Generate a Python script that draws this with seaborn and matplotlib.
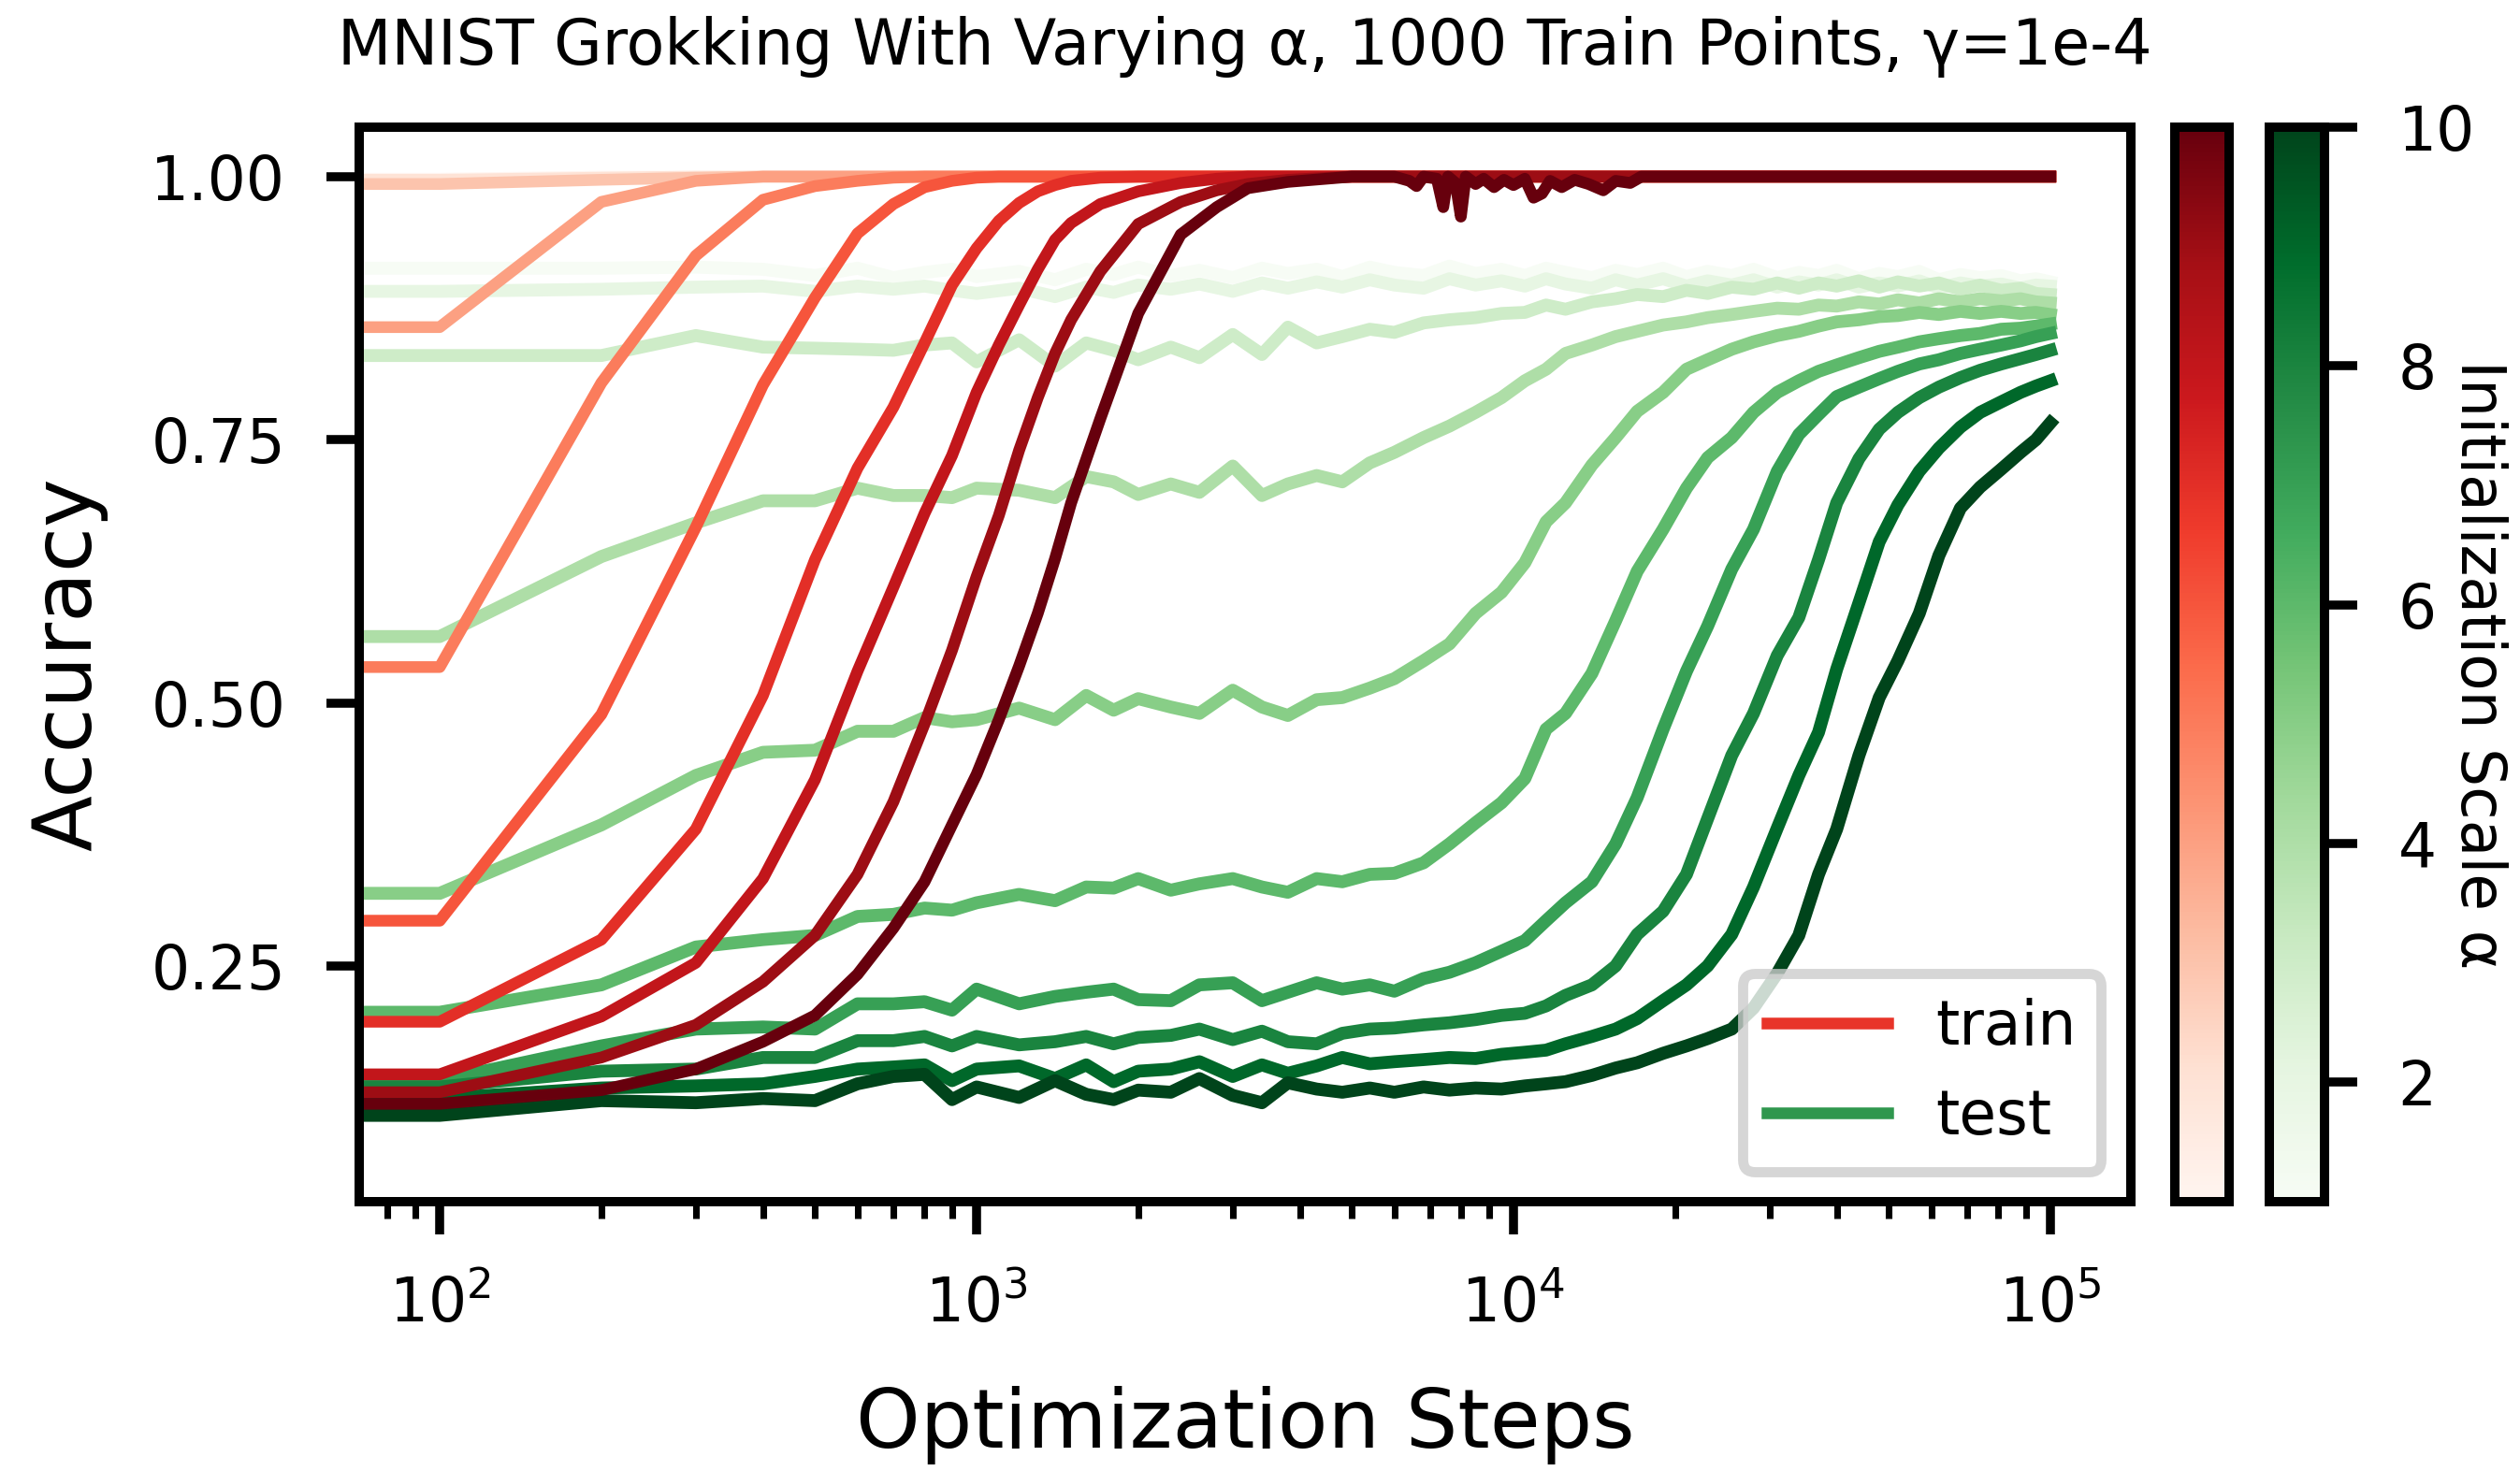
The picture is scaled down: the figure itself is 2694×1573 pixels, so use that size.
import matplotlib
matplotlib.use("Agg")
import matplotlib.pyplot as plt
import pandas as pd
import seaborn as sns
from matplotlib.lines import Line2D
from matplotlib.cm import ScalarMappable
from matplotlib.colors import Normalize
from matplotlib.ticker import FormatStrFormatter

# ---------------------------------------------------------------- data
TITLE = "MNIST Grokking With Varying α, 1000 Train Points, γ=1e-4"
ALPHAS = [1, 2, 3, 4, 5, 6, 7, 8, 9, 10]

# train accuracy, one list per initialization scale
TRAIN_STEPS = [0, 100, 200, 300, 400, 500, 600, 700, 800, 900, 1000,
               1100, 1200, 1300, 1400, 1500, 1700, 2000, 2400, 2800, 3200,
               3800, 5000, 100000]
TRAIN_A1 = [0.998, 0.998, 1.0, 1.0, 1.0, 1.0, 1.0, 1.0, 1.0, 1.0, 1.0,
            1.0, 1.0, 1.0, 1.0, 1.0, 1.0, 1.0, 1.0, 1.0, 1.0, 1.0, 1.0, 1.0]
TRAIN_A2 = [0.997, 0.997, 0.999, 1.0, 1.0, 1.0, 1.0, 1.0, 1.0, 1.0, 1.0,
            1.0, 1.0, 1.0, 1.0, 1.0, 1.0, 1.0, 1.0, 1.0, 1.0, 1.0, 1.0, 1.0]
TRAIN_A3 = [0.993, 0.993, 0.997, 0.999, 1.0, 1.0, 1.0, 1.0, 1.0, 1.0, 1.0,
            1.0, 1.0, 1.0, 1.0, 1.0, 1.0, 1.0, 1.0, 1.0, 1.0, 1.0, 1.0, 1.0]
TRAIN_A4 = [0.857, 0.857, 0.976, 0.996, 1.0, 1.0, 1.0, 1.0, 1.0, 1.0, 1.0,
            1.0, 1.0, 1.0, 1.0, 1.0, 1.0, 1.0, 1.0, 1.0, 1.0, 1.0, 1.0, 1.0]
TRAIN_A5 = [0.534, 0.534, 0.804, 0.925, 0.978, 0.991, 0.996, 0.999, 1.0, 1.0, 1.0,
            1.0, 1.0, 1.0, 1.0, 1.0, 1.0, 1.0, 1.0, 1.0, 1.0, 1.0, 1.0, 1.0]
TRAIN_A6 = [0.293, 0.293, 0.489, 0.667, 0.802, 0.885, 0.946, 0.974, 0.990, 0.996, 0.999,
            1.0, 1.0, 1.0, 1.0, 1.0, 1.0, 1.0, 1.0, 1.0, 1.0, 1.0, 1.0, 1.0]
TRAIN_A7 = [0.197, 0.197, 0.275, 0.380, 0.507, 0.636, 0.723, 0.781, 0.842, 0.897, 0.932,
            0.958, 0.975, 0.986, 0.992, 0.996, 0.999, 1.0, 1.0, 1.0, 1.0, 1.0, 1.0, 1.0]
TRAIN_A8 = [0.147, 0.147, 0.202, 0.253, 0.333, 0.427, 0.530, 0.610, 0.680, 0.735, 0.795,
            0.840, 0.878, 0.912, 0.940, 0.956, 0.974, 0.986, 0.994, 0.998, 1.0, 1.0, 1.0, 1.0]
TRAIN_A9 = [0.130, 0.130, 0.163, 0.194, 0.235, 0.279, 0.337, 0.406, 0.480, 0.550, 0.620,
            0.678, 0.740, 0.790, 0.832, 0.864, 0.910, 0.955, 0.976, 0.987, 0.993, 0.997, 1.0, 1.0]
TRAIN_A10 = [0.119, 0.119, 0.132, 0.152, 0.178, 0.203, 0.242, 0.286, 0.330, 0.384, 0.432,
             0.484, 0.535, 0.585, 0.637, 0.690, 0.770, 0.870, 0.945, 0.971, 0.989, 0.995, 1.0, 1.0]
# the largest scale wobbles around perfect train accuracy for a while
A10_WOBBLE_STEPS = [6000, 6400, 6600, 6800, 7200, 7400, 7550, 7800, 7980, 8150,
                    8500, 8800, 9200, 9600, 10000, 10500, 10900, 11300, 11700, 12300,
                    13000, 13800, 14700, 15500, 16500, 17300]
A10_WOBBLE_ACC = [1.0, 0.996, 0.991, 1.0, 0.998, 0.971, 1.0, 0.994, 0.962, 1.0,
                  0.993, 0.998, 0.990, 0.997, 0.992, 0.998, 0.980, 0.984, 0.996, 0.990,
                  0.997, 0.993, 0.987, 0.996, 0.994, 1.0]

# test accuracy, one list per initialization scale
TEST_STEPS = [0, 100, 200, 300, 400, 500, 600, 700, 800, 900, 1000,
              1200, 1400, 1600, 1800, 2000, 2300, 2600, 3000, 3400, 3800,
              4300, 4800, 5400, 6000, 6800, 7600, 8500, 9500, 10500, 11500,
              12500, 14000, 15500, 17000, 19000, 21000, 23000, 25500, 28000, 31000,
              34000, 37000, 40000, 44000, 48000, 52000, 57000, 62000, 68000, 74000,
              81000, 88000, 94000, 100000]
TEST_A1 = [0.913, 0.913, 0.913, 0.914, 0.912, 0.906, 0.913, 0.904, 0.909, 0.912, 0.905,
           0.910, 0.902, 0.912, 0.907, 0.914, 0.906, 0.911, 0.904, 0.913, 0.908,
           0.912, 0.905, 0.914, 0.909, 0.906, 0.915, 0.908, 0.912, 0.906, 0.913,
           0.909, 0.904, 0.911, 0.907, 0.913, 0.905, 0.910, 0.906, 0.912, 0.904,
           0.909, 0.906, 0.911, 0.903, 0.908, 0.905, 0.910, 0.902, 0.907, 0.904,
           0.906, 0.901, 0.903, 0.900]
TEST_A2 = [0.891, 0.891, 0.893, 0.895, 0.896, 0.891, 0.896, 0.893, 0.896, 0.892, 0.889,
           0.894, 0.886, 0.895, 0.890, 0.897, 0.893, 0.898, 0.891, 0.899, 0.894,
           0.900, 0.895, 0.902, 0.897, 0.894, 0.903, 0.897, 0.901, 0.896, 0.903,
           0.898, 0.894, 0.902, 0.897, 0.903, 0.896, 0.901, 0.897, 0.902, 0.895,
           0.900, 0.897, 0.902, 0.895, 0.899, 0.896, 0.901, 0.894, 0.899, 0.896,
           0.898, 0.894, 0.897, 0.896]
TEST_A3 = [0.830, 0.830, 0.830, 0.849, 0.838, 0.837, 0.836, 0.835, 0.840, 0.842, 0.824,
           0.845, 0.820, 0.842, 0.835, 0.826, 0.838, 0.828, 0.850, 0.831, 0.857,
           0.842, 0.848, 0.855, 0.852, 0.861, 0.864, 0.866, 0.870, 0.871, 0.878,
           0.874, 0.881, 0.884, 0.888, 0.886, 0.892, 0.889, 0.895, 0.893, 0.899,
           0.894, 0.899, 0.896, 0.901, 0.895, 0.900, 0.896, 0.899, 0.893, 0.897,
           0.892, 0.894, 0.889, 0.888]
TEST_A4 = [0.563, 0.563, 0.639, 0.671, 0.692, 0.692, 0.704, 0.697, 0.697, 0.695, 0.704,
           0.702, 0.695, 0.715, 0.710, 0.698, 0.708, 0.700, 0.725, 0.697, 0.708,
           0.716, 0.710, 0.728, 0.738, 0.752, 0.763, 0.776, 0.790, 0.806, 0.817,
           0.832, 0.840, 0.848, 0.853, 0.859, 0.862, 0.866, 0.869, 0.872, 0.875,
           0.874, 0.878, 0.877, 0.881, 0.879, 0.883, 0.880, 0.884, 0.881, 0.884,
           0.882, 0.884, 0.881, 0.880]
TEST_A5 = [0.319, 0.319, 0.384, 0.431, 0.453, 0.455, 0.473, 0.473, 0.486, 0.482, 0.484,
           0.495, 0.484, 0.507, 0.493, 0.504, 0.496, 0.490, 0.512, 0.496, 0.488,
           0.503, 0.505, 0.514, 0.523, 0.540, 0.556, 0.585, 0.605, 0.633, 0.672,
           0.690, 0.726, 0.752, 0.777, 0.795, 0.817, 0.826, 0.836, 0.843, 0.849,
           0.853, 0.858, 0.862, 0.864, 0.867, 0.868, 0.871, 0.869, 0.872, 0.870,
           0.872, 0.870, 0.871, 0.869]
TEST_A6 = [0.206, 0.206, 0.232, 0.268, 0.275, 0.279, 0.297, 0.299, 0.305, 0.303, 0.310,
           0.318, 0.312, 0.325, 0.324, 0.333, 0.322, 0.328, 0.333, 0.325, 0.320,
           0.333, 0.330, 0.337, 0.338, 0.348, 0.366, 0.386, 0.405, 0.428, 0.475,
           0.490, 0.528, 0.578, 0.625, 0.665, 0.704, 0.733, 0.752, 0.776, 0.795,
           0.806, 0.815, 0.821, 0.828, 0.834, 0.838, 0.843, 0.846, 0.849, 0.851,
           0.855, 0.856, 0.858, 0.860]
TEST_A7 = [0.141, 0.141, 0.174, 0.190, 0.192, 0.190, 0.214, 0.214, 0.216, 0.208, 0.228,
           0.214, 0.221, 0.225, 0.228, 0.218, 0.217, 0.232, 0.234, 0.217, 0.225,
           0.234, 0.228, 0.232, 0.226, 0.238, 0.244, 0.253, 0.264, 0.274, 0.293,
           0.310, 0.330, 0.366, 0.410, 0.475, 0.530, 0.573, 0.627, 0.665, 0.720,
           0.755, 0.774, 0.791, 0.800, 0.808, 0.815, 0.822, 0.826, 0.832, 0.836,
           0.840, 0.844, 0.848, 0.851]
TEST_A8 = [0.135, 0.135, 0.150, 0.152, 0.163, 0.163, 0.179, 0.179, 0.183, 0.174, 0.183,
           0.175, 0.178, 0.183, 0.176, 0.182, 0.184, 0.190, 0.180, 0.188, 0.178,
           0.176, 0.186, 0.190, 0.191, 0.194, 0.196, 0.199, 0.203, 0.205, 0.212,
           0.222, 0.232, 0.250, 0.280, 0.302, 0.337, 0.390, 0.450, 0.490, 0.545,
           0.581, 0.636, 0.690, 0.732, 0.760, 0.776, 0.790, 0.800, 0.809, 0.816,
           0.822, 0.827, 0.831, 0.835]
TEST_A9 = [0.124, 0.124, 0.134, 0.136, 0.138, 0.145, 0.152, 0.154, 0.156, 0.141, 0.152,
           0.155, 0.143, 0.156, 0.140, 0.150, 0.152, 0.159, 0.145, 0.156, 0.148,
           0.155, 0.163, 0.157, 0.159, 0.161, 0.163, 0.162, 0.166, 0.168, 0.170,
           0.176, 0.183, 0.190, 0.200, 0.217, 0.232, 0.250, 0.280, 0.325, 0.381,
           0.431, 0.472, 0.532, 0.595, 0.653, 0.688, 0.720, 0.742, 0.762, 0.776,
           0.786, 0.795, 0.801, 0.806]
TEST_A10 = [0.108, 0.108, 0.122, 0.120, 0.124, 0.122, 0.138, 0.145, 0.147, 0.123, 0.135,
            0.125, 0.141, 0.128, 0.123, 0.132, 0.130, 0.143, 0.127, 0.120, 0.139,
            0.133, 0.130, 0.134, 0.130, 0.135, 0.132, 0.134, 0.133, 0.136, 0.138,
            0.140, 0.146, 0.153, 0.158, 0.167, 0.174, 0.181, 0.190, 0.210, 0.243,
            0.279, 0.337, 0.380, 0.450, 0.505, 0.540, 0.585, 0.640, 0.685, 0.705,
            0.722, 0.738, 0.750, 0.766]

Y_TICKS = [0.25, 0.50, 0.75, 1.00]
CBAR_TICKS = [2, 4, 6, 8, 10]

TRAIN_SERIES = [TRAIN_A1, TRAIN_A2, TRAIN_A3, TRAIN_A4, TRAIN_A5,
                TRAIN_A6, TRAIN_A7, TRAIN_A8, TRAIN_A9, TRAIN_A10]
TEST_SERIES = [TEST_A1, TEST_A2, TEST_A3, TEST_A4, TEST_A5,
               TEST_A6, TEST_A7, TEST_A8, TEST_A9, TEST_A10]

# ---------------------------------------------------------------- frames
def long_frame(steps, series):
    rows = []
    for a, vals in zip(ALPHAS, series):
        assert len(vals) == len(steps)
        rows += [(s, v, a) for s, v in zip(steps, vals)]
    return pd.DataFrame(rows, columns=["step", "acc", "alpha"])

train_df = long_frame(TRAIN_STEPS, TRAIN_SERIES)
wobble_df = pd.DataFrame({"step": A10_WOBBLE_STEPS, "acc": A10_WOBBLE_ACC,
                          "alpha": 10})
train_df = pd.concat([train_df, wobble_df], ignore_index=True)
test_df = long_frame(TEST_STEPS, TEST_SERIES)

# ---------------------------------------------------------------- figure
plt.rcParams["font.family"] = ["DejaVu Sans"]
W, H, DPI = 2695, 1573, 300
fig = plt.figure(figsize=(W / DPI, H / DPI), dpi=DPI)
fig.patch.set_facecolor("white")

AX_L, AX_R, AX_T, AX_B = 384, 2278, 136, 1285
ax = fig.add_axes([AX_L / W, 1 - AX_B / H, (AX_R - AX_L) / W, (AX_B - AX_T) / H])

LW = 3.0
norm = Normalize(vmin=1, vmax=10)
sns.lineplot(data=test_df, x="step", y="acc", hue="alpha", palette="Greens",
             hue_norm=(1, 10), estimator=None, sort=True, legend=False,
             linewidth=LW + 0.3, ax=ax)
sns.lineplot(data=train_df, x="step", y="acc", hue="alpha", palette="Reds",
             hue_norm=(1, 10), estimator=None, sort=True, legend=False,
             linewidth=LW, ax=ax)

ax.set_xscale("log")
ax.set_xlim(10 ** 1.85, 10 ** 5.15)
ax.set_ylim(0.026, 1.047)
ax.set_yticks(Y_TICKS)
ax.yaxis.set_major_formatter(FormatStrFormatter("%.2f"))

SPINE_W = 2.4
for sp in ax.spines.values():
    sp.set_linewidth(SPINE_W)
ax.tick_params(which="major", length=8.4, width=2.3, labelsize=15.5, pad=10.5)
ax.tick_params(which="minor", length=4.4, width=1.7)

ax.set_xlabel("Optimization Steps", fontsize=21, labelpad=13)
ax.set_ylabel("Accuracy", fontsize=21, labelpad=11)
ax.set_title(TITLE, fontsize=16, pad=16)

handles = [Line2D([], [], color=plt.get_cmap("Reds")(0.65), lw=LW),
           Line2D([], [], color=plt.get_cmap("Greens")(0.7), lw=LW)]
leg = ax.legend(handles, ["train", "test"], loc="lower right", fontsize=15.5)
leg.get_frame().set_linewidth(2.6)

# ---------------------------------------------------------------- colorbars
cax_r = fig.add_axes([2325 / W, 1 - AX_B / H, 58 / W, (AX_B - AX_T) / H])
cax_g = fig.add_axes([2426 / W, 1 - AX_B / H, 59 / W, (AX_B - AX_T) / H])

cb_r = fig.colorbar(ScalarMappable(norm=norm, cmap="Reds"), cax=cax_r)
cb_r.set_ticks([])
cb_r.outline.set_linewidth(SPINE_W)

cb_g = fig.colorbar(ScalarMappable(norm=norm, cmap="Greens"), cax=cax_g,
                    ticks=CBAR_TICKS)
cb_g.outline.set_linewidth(SPINE_W)
cb_g.ax.tick_params(length=8.4, width=2.3, labelsize=15.5, pad=10.5)
cb_g.set_label("Initialization Scale α", rotation=270, fontsize=15.5,
               va="center", ha="center")
cb_g.ax.yaxis.set_label_coords((2649 - 2426) / 59, 0.5)

fig.savefig("out.png", dpi=DPI, facecolor="white")
